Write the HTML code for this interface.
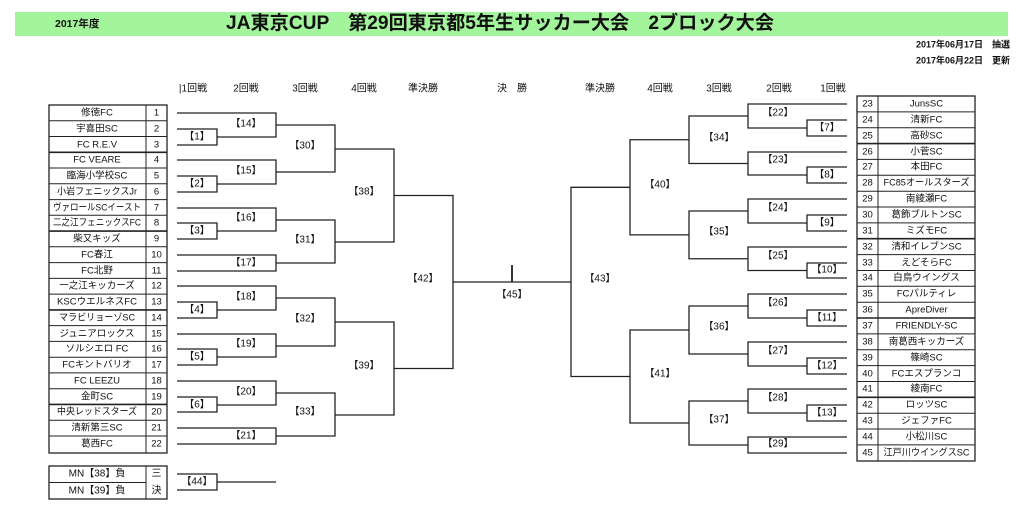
<!DOCTYPE html>
<html><head><meta charset="utf-8"><style>
html,body{margin:0;padding:0;background:#fff;width:1024px;height:511px;overflow:hidden}
svg{display:block;font-family:"Liberation Sans","Noto Sans CJK JP",sans-serif}
.b polyline,.b line{fill:none;stroke:#222;stroke-width:1.3}
text{font-size:10px;fill:#111;dominant-baseline:middle;text-anchor:middle}
.n text{font-size:9.5px}
.t line{stroke:#222;stroke-width:1}
</style></head><body>
<svg width="1024" height="511" viewBox="0 0 1024 511">
<rect x="15" y="12" width="993" height="24" fill="#a3f59c"/>
<text x="55" y="24" style="font-size:10.5px;font-weight:bold;text-anchor:start">2017年度</text>
<text x="500" y="24" style="font-size:19px;font-weight:bold" textLength="548" lengthAdjust="spacingAndGlyphs">JA東京CUP　第29回東京都5年生サッカー大会　2ブロック大会</text>
<text x="1010" y="45" style="font-size:9px;font-weight:bold;text-anchor:end">2017年06月17日　抽選</text>
<text x="1010" y="61" style="font-size:9px;font-weight:bold;text-anchor:end">2017年06月22日　更新</text>

<g style="font-size:10px">
<text x="193" y="89">|1回戦</text><text x="246" y="89">2回戦</text><text x="305" y="89">3回戦</text><text x="364" y="89">4回戦</text><text x="423" y="89">準決勝</text><text x="512" y="89">決　勝</text><text x="600" y="89">準決勝</text><text x="660" y="89">4回戦</text><text x="719" y="89">3回戦</text><text x="779" y="89">2回戦</text><text x="833" y="89">1回戦</text>
</g>

<g class="t">
<rect x="49" y="105" width="118" height="348" fill="none" stroke="#222" stroke-width="1.3"/>
<line x1="146" y1="105" x2="146" y2="453"/>
<line x1="49" y1="120.8" x2="167" y2="120.8"/><line x1="49" y1="136.5" x2="167" y2="136.5"/><line x1="49" y1="152.3" x2="167" y2="152.3" style="stroke-width:1.6"/><line x1="49" y1="168" x2="167" y2="168"/><line x1="49" y1="183.8" x2="167" y2="183.8"/><line x1="49" y1="199.6" x2="167" y2="199.6"/><line x1="49" y1="215.3" x2="167" y2="215.3"/><line x1="49" y1="231.1" x2="167" y2="231.1" style="stroke-width:1.6"/><line x1="49" y1="246.8" x2="167" y2="246.8"/><line x1="49" y1="262.6" x2="167" y2="262.6"/><line x1="49" y1="278.4" x2="167" y2="278.4"/><line x1="49" y1="294.1" x2="167" y2="294.1"/><line x1="49" y1="309.9" x2="167" y2="309.9" style="stroke-width:1.6"/><line x1="49" y1="325.6" x2="167" y2="325.6"/><line x1="49" y1="341.4" x2="167" y2="341.4"/><line x1="49" y1="357.2" x2="167" y2="357.2"/><line x1="49" y1="372.9" x2="167" y2="372.9"/><line x1="49" y1="388.7" x2="167" y2="388.7"/><line x1="49" y1="404.4" x2="167" y2="404.4" style="stroke-width:1.6"/><line x1="49" y1="420.2" x2="167" y2="420.2"/><line x1="49" y1="436" x2="167" y2="436"/>
</g>
<g class="n">
<text x="97" y="113">修徳FC</text><text x="156.5" y="113">1</text>
<text x="97" y="129">宇喜田SC</text><text x="156.5" y="129">2</text>
<text x="97" y="145">FC R.E.V</text><text x="156.5" y="145">3</text>
<text x="97" y="160">FC VEARE</text><text x="156.5" y="160">4</text>
<text x="97" y="176">臨海小学校SC</text><text x="156.5" y="176">5</text>
<text x="97" y="192" textLength="80" lengthAdjust="spacingAndGlyphs">小岩フェニックスJr</text><text x="156.5" y="192">6</text>
<text x="97" y="208" textLength="88" lengthAdjust="spacingAndGlyphs">ヴァロールSCイースト</text><text x="156.5" y="208">7</text>
<text x="97" y="223" textLength="88" lengthAdjust="spacingAndGlyphs">二之江フェニックスFC</text><text x="156.5" y="223">8</text>
<text x="97" y="239">柴又キッズ</text><text x="156.5" y="239">9</text>
<text x="97" y="255">FC春江</text><text x="156.5" y="255">10</text>
<text x="97" y="271">FC北野</text><text x="156.5" y="271">11</text>
<text x="97" y="286">一之江キッカーズ</text><text x="156.5" y="286">12</text>
<text x="97" y="302" textLength="80" lengthAdjust="spacingAndGlyphs">KSCウエルネスFC</text><text x="156.5" y="302">13</text>
<text x="97" y="318" textLength="76" lengthAdjust="spacingAndGlyphs">マラビリョーゾSC</text><text x="156.5" y="318">14</text>
<text x="97" y="334">ジュニアロックス</text><text x="156.5" y="334">15</text>
<text x="97" y="349">ソルシエロ FC</text><text x="156.5" y="349">16</text>
<text x="97" y="365">FCキントバリオ</text><text x="156.5" y="365">17</text>
<text x="97" y="381">FC LEEZU</text><text x="156.5" y="381">18</text>
<text x="97" y="397">金町SC</text><text x="156.5" y="397">19</text>
<text x="97" y="412" textLength="80" lengthAdjust="spacingAndGlyphs">中央レッドスターズ</text><text x="156.5" y="412">20</text>
<text x="97" y="428">清新第三SC</text><text x="156.5" y="428">21</text>
<text x="97" y="444">葛西FC</text><text x="156.5" y="444">22</text>
</g>

<g class="t">
<rect x="49" y="466" width="118" height="33" fill="none" stroke="#222" stroke-width="1.3"/>
<line x1="146" y1="466" x2="146" y2="499"/><line x1="49" y1="482.5" x2="146" y2="482.5"/>
</g>
<text x="97" y="474">MN【38】負</text><text x="97" y="491">MN【39】負</text>
<text x="156.5" y="474">三</text><text x="156.5" y="491">決</text>

<g class="t">
<rect x="857" y="96" width="118" height="365" fill="none" stroke="#222" stroke-width="1.3"/>
<line x1="878" y1="96" x2="878" y2="461"/>
<line x1="857" y1="111.9" x2="975" y2="111.9"/><line x1="857" y1="127.7" x2="975" y2="127.7"/><line x1="857" y1="143.6" x2="975" y2="143.6" style="stroke-width:1.6"/><line x1="857" y1="159.4" x2="975" y2="159.4"/><line x1="857" y1="175.3" x2="975" y2="175.3"/><line x1="857" y1="191.2" x2="975" y2="191.2"/><line x1="857" y1="207" x2="975" y2="207"/><line x1="857" y1="222.9" x2="975" y2="222.9"/><line x1="857" y1="238.7" x2="975" y2="238.7" style="stroke-width:1.6"/><line x1="857" y1="254.6" x2="975" y2="254.6"/><line x1="857" y1="270.5" x2="975" y2="270.5"/><line x1="857" y1="286.3" x2="975" y2="286.3"/><line x1="857" y1="302.2" x2="975" y2="302.2"/><line x1="857" y1="318" x2="975" y2="318" style="stroke-width:1.6"/><line x1="857" y1="333.9" x2="975" y2="333.9"/><line x1="857" y1="349.8" x2="975" y2="349.8"/><line x1="857" y1="365.6" x2="975" y2="365.6"/><line x1="857" y1="381.5" x2="975" y2="381.5"/><line x1="857" y1="397.3" x2="975" y2="397.3" style="stroke-width:1.6"/><line x1="857" y1="413.2" x2="975" y2="413.2"/><line x1="857" y1="429" x2="975" y2="429"/><line x1="857" y1="444.9" x2="975" y2="444.9"/>
</g>
<g class="n">
<text x="867.5" y="104">23</text><text x="926.5" y="104">JunsSC</text>
<text x="867.5" y="120">24</text><text x="926.5" y="120">清新FC</text>
<text x="867.5" y="136">25</text><text x="926.5" y="136">高砂SC</text>
<text x="867.5" y="152">26</text><text x="926.5" y="152">小菅SC</text>
<text x="867.5" y="167">27</text><text x="926.5" y="167">本田FC</text>
<text x="867.5" y="183">28</text><text x="926.5" y="183" textLength="86" lengthAdjust="spacingAndGlyphs">FC85オールスターズ</text>
<text x="867.5" y="199">29</text><text x="926.5" y="199">南綾瀬FC</text>
<text x="867.5" y="215">30</text><text x="926.5" y="215">葛飾ブルトンSC</text>
<text x="867.5" y="231">31</text><text x="926.5" y="231">ミズモFC</text>
<text x="867.5" y="247">32</text><text x="926.5" y="247">清和イレブンSC</text>
<text x="867.5" y="263">33</text><text x="926.5" y="263">えどそらFC</text>
<text x="867.5" y="278">34</text><text x="926.5" y="278">白鳥ウイングス</text>
<text x="867.5" y="294">35</text><text x="926.5" y="294">FCパルティレ</text>
<text x="867.5" y="310">36</text><text x="926.5" y="310">ApreDiver</text>
<text x="867.5" y="326">37</text><text x="926.5" y="326">FRIENDLY-SC</text>
<text x="867.5" y="342">38</text><text x="926.5" y="342">南葛西キッカーズ</text>
<text x="867.5" y="358">39</text><text x="926.5" y="358">篠崎SC</text>
<text x="867.5" y="374">40</text><text x="926.5" y="374">FCエスプランコ</text>
<text x="867.5" y="389">41</text><text x="926.5" y="389">綾南FC</text>
<text x="867.5" y="405">42</text><text x="926.5" y="405">ロッツSC</text>
<text x="867.5" y="421">43</text><text x="926.5" y="421">ジェファFC</text>
<text x="867.5" y="437">44</text><text x="926.5" y="437">小松川SC</text>
<text x="867.5" y="453">45</text><text x="926.5" y="453" textLength="86" lengthAdjust="spacingAndGlyphs">江戸川ウイングスSC</text>
</g>

<g class="b">
<polyline points="177,129 217,129 217,145 177,145"/>
<polyline points="177,113 276,113 276,137 217,137"/>
<polyline points="177,176 217,176 217,192 177,192"/>
<polyline points="177,160 276,160 276,184 217,184"/>
<polyline points="177,223 217,223 217,239 177,239"/>
<polyline points="177,208 276,208 276,231 217,231"/>
<polyline points="177,255 276,255 276,271 177,271"/>
<polyline points="177,302 217,302 217,318 177,318"/>
<polyline points="177,286 276,286 276,310 217,310"/>
<polyline points="177,349 217,349 217,365 177,365"/>
<polyline points="177,334 276,334 276,357 217,357"/>
<polyline points="177,397 217,397 217,412 177,412"/>
<polyline points="177,381 276,381 276,405 217,405"/>
<polyline points="177,428 276,428 276,444 177,444"/>
<polyline points="276,125 335,125 335,172 276,172"/>
<polyline points="276,220 335,220 335,263 276,263"/>
<polyline points="276,298 335,298 335,346 276,346"/>
<polyline points="276,393 335,393 335,436 276,436"/>
<polyline points="335,149 394,149 394,242 335,242"/>
<polyline points="335,322 394,322 394,415 335,415"/>
<polyline points="394,195.5 453,195.5 453,368.5 394,368.5"/>
<line x1="453" y1="282" x2="571" y2="282"/>
<line x1="512" y1="265" x2="512" y2="282" style="stroke-width:1.8"/>
<polyline points="177,474 217,474 217,490 177,490"/>
<line x1="217" y1="482" x2="276" y2="482"/>

<polyline points="847,120 807,120 807,136 847,136"/>
<polyline points="847,104 748,104 748,128 807,128"/>
<polyline points="847,167 807,167 807,183 847,183"/>
<polyline points="847,152 748,152 748,175 807,175"/>
<polyline points="847,215 807,215 807,231 847,231"/>
<polyline points="847,199 748,199 748,223 807,223"/>
<polyline points="847,263 807,263 807,278 847,278"/>
<polyline points="847,247 748,247 748,270.5 807,270.5"/>
<polyline points="847,310 807,310 807,326 847,326"/>
<polyline points="847,294 748,294 748,318 807,318"/>
<polyline points="847,358 807,358 807,374 847,374"/>
<polyline points="847,342 748,342 748,366 807,366"/>
<polyline points="847,405 807,405 807,421 847,421"/>
<polyline points="847,389 748,389 748,413 807,413"/>
<polyline points="847,437 748,437 748,453 847,453"/>
<polyline points="748,116 689,116 689,163.5 748,163.5"/>
<polyline points="748,211 689,211 689,258.75 748,258.75"/>
<polyline points="748,306 689,306 689,354 748,354"/>
<polyline points="748,401 689,401 689,445 748,445"/>
<polyline points="689,139.75 630,139.75 630,234.9 689,234.9"/>
<polyline points="689,330 630,330 630,423 689,423"/>
<polyline points="630,187.3 571,187.3 571,376.5 630,376.5"/>
</g>

<g>
<text x="197" y="137">【1】</text><text x="246" y="124">【14】</text>
<text x="197" y="184">【2】</text><text x="246" y="171">【15】</text>
<text x="197" y="231">【3】</text><text x="246" y="218">【16】</text>
<text x="246" y="263">【17】</text>
<text x="197" y="310">【4】</text><text x="246" y="297">【18】</text>
<text x="197" y="357">【5】</text><text x="246" y="344">【19】</text>
<text x="197" y="405">【6】</text><text x="246" y="392">【20】</text>
<text x="246" y="436">【21】</text>
<text x="305" y="146">【30】</text><text x="305" y="240">【31】</text>
<text x="305" y="319">【32】</text><text x="305" y="412">【33】</text>
<text x="364" y="192">【38】</text><text x="364" y="366">【39】</text>
<text x="423" y="279">【42】</text>
<text x="512" y="295">【45】</text>
<text x="197" y="482">【44】</text>

<text x="827" y="128">【7】</text><text x="778" y="113">【22】</text>
<text x="827" y="175">【8】</text><text x="778" y="160">【23】</text>
<text x="827" y="223">【9】</text><text x="778" y="208">【24】</text>
<text x="827" y="270">【10】</text><text x="778" y="256">【25】</text>
<text x="827" y="318">【11】</text><text x="778" y="303">【26】</text>
<text x="827" y="366">【12】</text><text x="778" y="351">【27】</text>
<text x="827" y="413">【13】</text><text x="778" y="398">【28】</text>
<text x="778" y="444">【29】</text>
<text x="719" y="138">【34】</text><text x="719" y="232">【35】</text>
<text x="719" y="327">【36】</text><text x="719" y="420">【37】</text>
<text x="660" y="185">【40】</text><text x="660" y="374">【41】</text>
<text x="600" y="279">【43】</text>
</g>
</svg>
</body></html>
